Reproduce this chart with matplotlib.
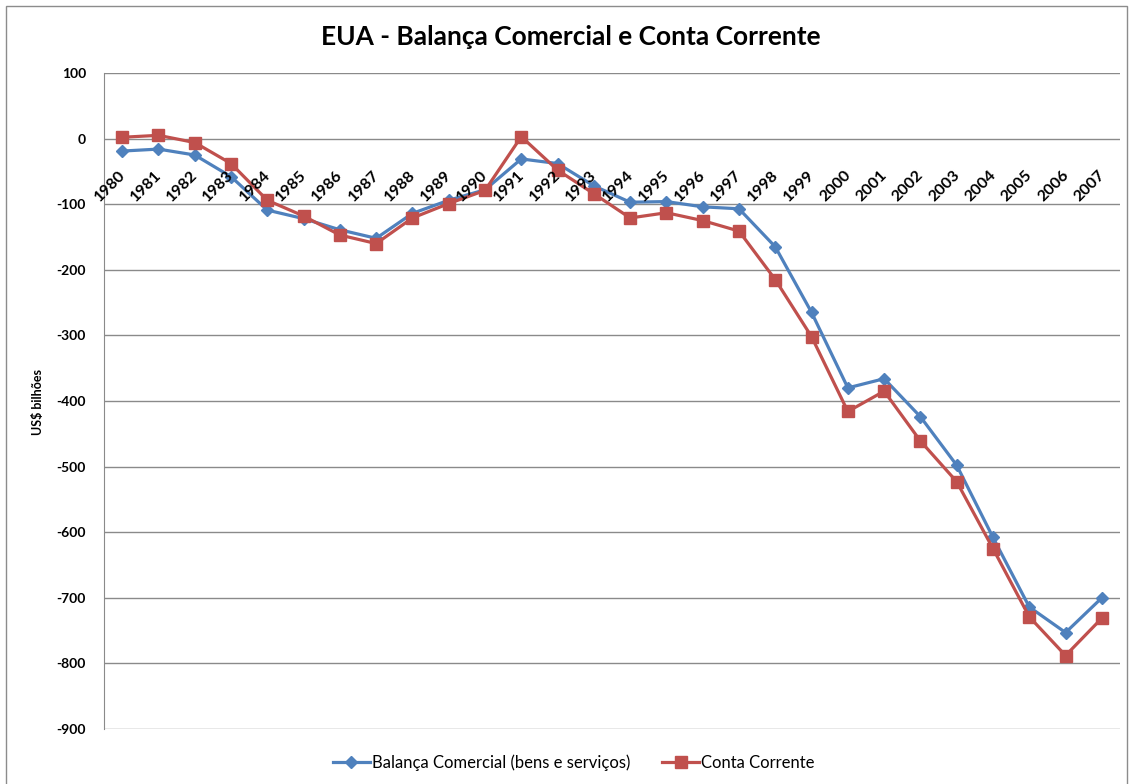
import matplotlib
matplotlib.use("Agg")
import matplotlib.pyplot as plt
from matplotlib.patches import Rectangle

years = [str(y) for y in range(1980, 2008)]
balanca = [-19, -16, -25, -58, -109, -122, -139, -152, -114, -94, -78, -31, -38, -72,
           -97, -96, -104, -107, -165, -265, -380, -366, -424, -498, -608, -714, -753, -700]
conta = [2, 5, -6, -38, -94, -118, -147, -160, -121, -99, -79, 3, -48, -84,
         -121, -113, -125, -141, -215, -302, -416, -385, -461, -523, -625, -729, -788, -731]
yticks = list(range(-900, 101, 100))

plt.rcParams['font.family'] = ['Lato', 'DejaVu Sans']

fig = plt.figure(figsize=(11.31, 7.84), dpi=100)
W, H = 1131, 784
ax = fig.add_axes([104 / W, 1 - 729 / H, (1120 - 104) / W, (729 - 73) / H])

fig.patches.append(Rectangle((6 / W, -10 / H), (W - 10) / W, (H + 4) / H, transform=fig.transFigure,
                             fill=False, edgecolor='#8c8c8c', linewidth=1.0))

x = list(range(len(years)))
blue = '#4F81BD'
red = '#C0504D'
ax.plot(x, balanca, color=blue, linewidth=2.3, marker='D', markersize=6.5,
        label='Balança Comercial (bens e serviços)', zorder=3)
ax.plot(x, conta, color=red, linewidth=2.3, marker='s', markersize=8.5,
        label='Conta Corrente', zorder=3)

ax.set_xlim(-0.5, len(years) - 0.5)
ax.set_ylim(-900, 100)
ax.set_yticks(yticks)
ax.set_yticklabels([str(v) for v in yticks], fontweight='bold', fontsize=10)
ax.tick_params(axis='y', length=0, pad=13)
ax.set_xticks([])
ax.yaxis.grid(True, color='#8a8a8a', linewidth=1.0)
ax.set_axisbelow(True)
for s in ['top', 'right', 'bottom']:
    ax.spines[s].set_visible(False)
ax.spines['left'].set_color('#8a8a8a')

for i, yr in enumerate(years):
    ax.annotate(yr, xy=(i, 0), xytext=(-3, -21), textcoords='offset points',
                rotation=45, ha='right', va='top', fontsize=11.5, fontweight='bold',
                rotation_mode='anchor', zorder=4)

fig.text(38 / W, 1 - 402 / H, 'US$ bilhões', rotation=90, ha='center', va='center',
         fontsize=9, fontweight='bold')
fig.text(571 / W, 1 - 37 / H, 'EUA - Balança Comercial e Conta Corrente', ha='center', va='center',
         fontsize=18.9, fontweight='bold')

fig.legend(loc='center', bbox_to_anchor=(574 / W, 1 - 763 / H), ncol=2, frameon=False,
           fontsize=12, handlelength=2.2, columnspacing=1.9, handletextpad=0.15)

fig.savefig('out.png', dpi=100)
